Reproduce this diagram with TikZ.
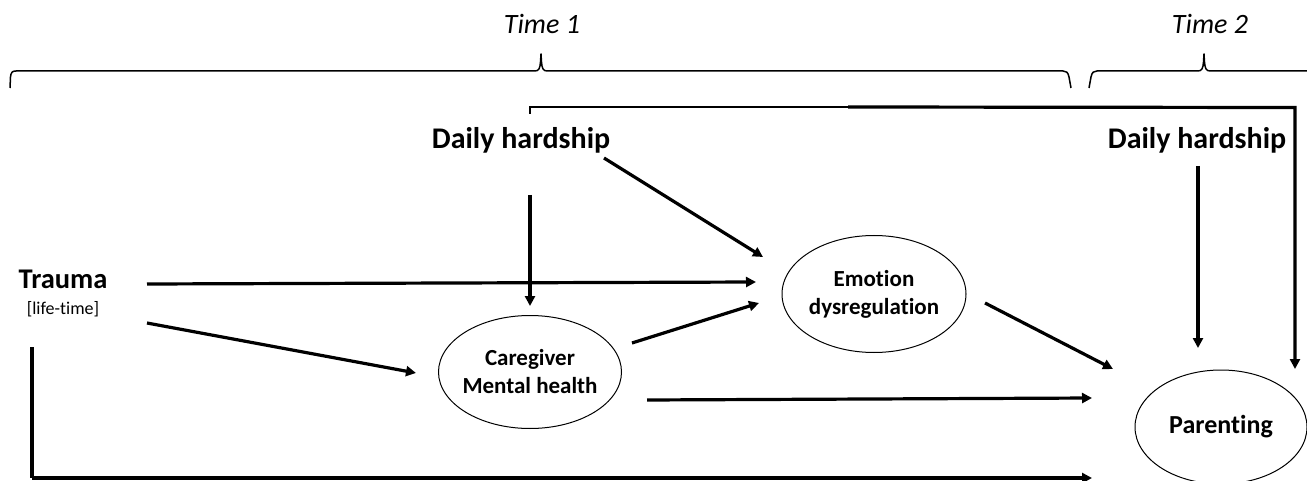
\documentclass[tikz,border=0pt]{standalone}
\usepackage{fontspec}
\setmainfont{Carlito}[Ligatures=NoCommon]
\usetikzlibrary{arrows.meta,shapes.geometric}
\begin{document}
\begin{tikzpicture}[x=1pt,y=-1pt,
  arr/.style={line width=3.2pt,-{Triangle[length=10pt,width=10pt]}},
  brace/.style={line width=1.5pt,line join=round},
  oval/.style={draw,ellipse,line width=1pt,inner sep=0pt,align=center},
  timelbl/.style={font=\itshape\fontsize{28}{30}\selectfont,inner sep=0pt},
  biglbl/.style={font=\bfseries\fontsize{30}{32}\selectfont,inner sep=0pt},
  ovaltxt/.style={font=\bfseries\fontsize{23}{28}\selectfont}]
\useasboundingbox (0,0) rectangle (1307,481);
\fill[white] (0,0) rectangle (1307,481);
% time labels
\node[timelbl] (t1) at (542,24) {Time 1};
\node[timelbl] (t2) at (1210,24) {Time 2};
% braces
\draw[brace] (10,88) -- (10.5,77) .. controls (11,72.5) and (12,71) .. (16,71)
  -- (535,71) .. controls (539,71) and (540,68) .. (540.5,62) -- (541,54)
  -- (541.5,62) .. controls (542,68) and (543,71) .. (547,71)
  -- (1063,71) .. controls (1066,71) and (1068,72) .. (1069,77) -- (1071,88);
\draw[brace] (1089,88) -- (1091,77) .. controls (1092,72) and (1094,71) .. (1097,71)
  -- (1198,71) .. controls (1202,71) and (1203,68) .. (1203.5,62) -- (1204,54)
  -- (1204.5,62) .. controls (1205,68) and (1206,71) .. (1210,71) -- (1307,71);
% text nodes
\node[biglbl,anchor=base] (dh1) at (521,149) {Daily hardship};
\node[biglbl,anchor=base] (dh2) at (1197,149) {Daily hardship};
\node[inner sep=0pt,anchor=base,font=\bfseries\fontsize{28.5}{30}\selectfont] (trauma) at (63,288) {Trauma};
\node[inner sep=0pt,anchor=base,font=\fontsize{18}{20}\selectfont] (life) at (63,314) {[life-time]};
% ovals
\node[oval,minimum width=183pt,minimum height=113pt] (care) at (530,372) {};
\node[ovaltxt,align=center] (caretxt) at (care) {Caregiver\\Mental health};
\node[oval,minimum width=184pt,minimum height=117pt] (emo) at (874,294) {};
\node[ovaltxt,align=center] (emotxt) at (emo) {Emotion\\dysregulation};
\node[oval,minimum width=172pt,minimum height=114pt] (par) at (1221,427) {};
\node[font=\bfseries\fontsize{26}{28}\selectfont] (partxt) at (par) {Parenting};
% connector end points
\coordinate (tA) at (147,284);   \coordinate (eA) at (756,282);
\coordinate (tB) at (147,323);   \coordinate (cB) at (416,373);
\coordinate (tC) at (32,347);    \coordinate (tCc) at (32,478);  \coordinate (pC) at (1092,478);
\coordinate (dA) at (604,158);   \coordinate (eD) at (763,257);
\coordinate (dB) at (530,195);   \coordinate (cD) at (530,306);
\coordinate (cE) at (632,343);   \coordinate (eC) at (759,303);
\coordinate (cP) at (647,400);   \coordinate (pP) at (1092,398);
\coordinate (eP) at (985,303);   \coordinate (pE) at (1113,369);
\coordinate (d2) at (1198,166);  \coordinate (p2) at (1198,348);
\coordinate (k0) at (530,114);   \coordinate (k1) at (530,107);
\coordinate (k2) at (848,107);   \coordinate (k3) at (1295,107.5);
\coordinate (pK) at (1295,369);
% arrows
\draw[arr] (tA) -- (eA);
\draw[arr] (tB) -- (cB);
\draw[arr,-] (tC) -- (tCc);
\draw[arr,line join=miter] (tCc) -- (pC);
\draw[arr] (dA) -- (eD);
\draw[arr] (dB) -- (cD);
\draw[arr] (cE) -- (eC);
\draw[arr] (cP) -- (pP);
\draw[arr] (eP) -- (pE);
\draw[arr] (d2) -- (p2);
\draw[line width=1.5pt] (k0) -- (k1) -- (k2);
\draw[arr,line join=miter] (k2) -- (k3) -- (pK);
\end{tikzpicture}
\end{document}
